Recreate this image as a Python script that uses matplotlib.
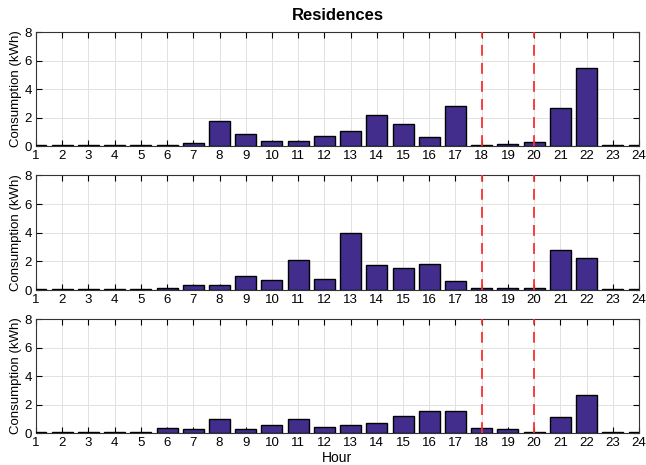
import numpy as np
import matplotlib
matplotlib.use("Agg")
from matplotlib import pyplot as plt

plt.rcParams["font.family"] = ["Liberation Sans", "DejaVu Sans"]

# Horas e consumo (kWh) de cada painel
hours = list(range(1, 25))
panel_top = [0.05, 0.05, 0.05, 0.05, 0.05, 0.05, 0.22, 1.78, 0.85, 0.38, 0.38, 0.70,
             1.02, 2.17, 1.53, 0.64, 2.82, 0.05, 0.12, 0.31, 2.66, 5.50, 0.05, 0.05]
panel_mid = [0.05, 0.05, 0.05, 0.05, 0.05, 0.16, 0.35, 0.35, 1.02, 0.74, 2.11, 0.81,
             4.00, 1.74, 1.51, 1.83, 0.65, 0.15, 0.15, 0.15, 2.81, 2.23, 0.05, 0.05]
panel_bot = [0.05, 0.05, 0.05, 0.05, 0.05, 0.33, 0.26, 1.00, 0.26, 0.56, 0.98, 0.40,
             0.58, 0.72, 1.21, 1.56, 1.56, 0.33, 0.26, 0.05, 1.14, 2.66, 0.05, 0.05]
peak_limits = [18, 20]

bar_color = "#432D8C"

fig = plt.figure(figsize=(6.46, 4.65), dpi=100)

positions = [(0.0557, 0.686, 0.9335, 0.245),
             (0.0557, 0.376, 0.9335, 0.247),
             (0.0557, 0.0688, 0.9335, 0.245)]

for pos, values in zip(positions, [panel_top, panel_mid, panel_bot]):
    ax = fig.add_axes(pos)
    ax.bar(hours, values, width=0.8, color=bar_color, edgecolor="black", linewidth=1.0, zorder=3)
    for x in peak_limits:
        ax.axvline(x, color="#FF2D2D", linestyle=(0, (6, 4)), linewidth=1.3, zorder=4)
    ax.set_xlim(1, 24)
    ax.set_ylim(0, 8)
    ax.set_xticks(hours)
    ax.set_yticks([0, 2, 4, 6, 8])
    ax.grid(True, color="#E2E2E2", linewidth=0.7, zorder=0)
    ax.tick_params(direction="in", top=True, right=True, length=4, width=0.8,
                   labelsize=9.5, pad=3)
    for s in ax.spines.values():
        s.set_linewidth(0.8)
        s.set_color("#333333")
    ax.set_ylabel("Consumption (kWh)", fontsize=9.5, labelpad=2)

fig.text(0.523, 0.967, "Residences", ha="center", va="center", fontsize=12, fontweight="bold")
fig.text(0.521, 0.015, "Hour", ha="center", va="center", fontsize=10)

plt.savefig("out.png", dpi=100)
